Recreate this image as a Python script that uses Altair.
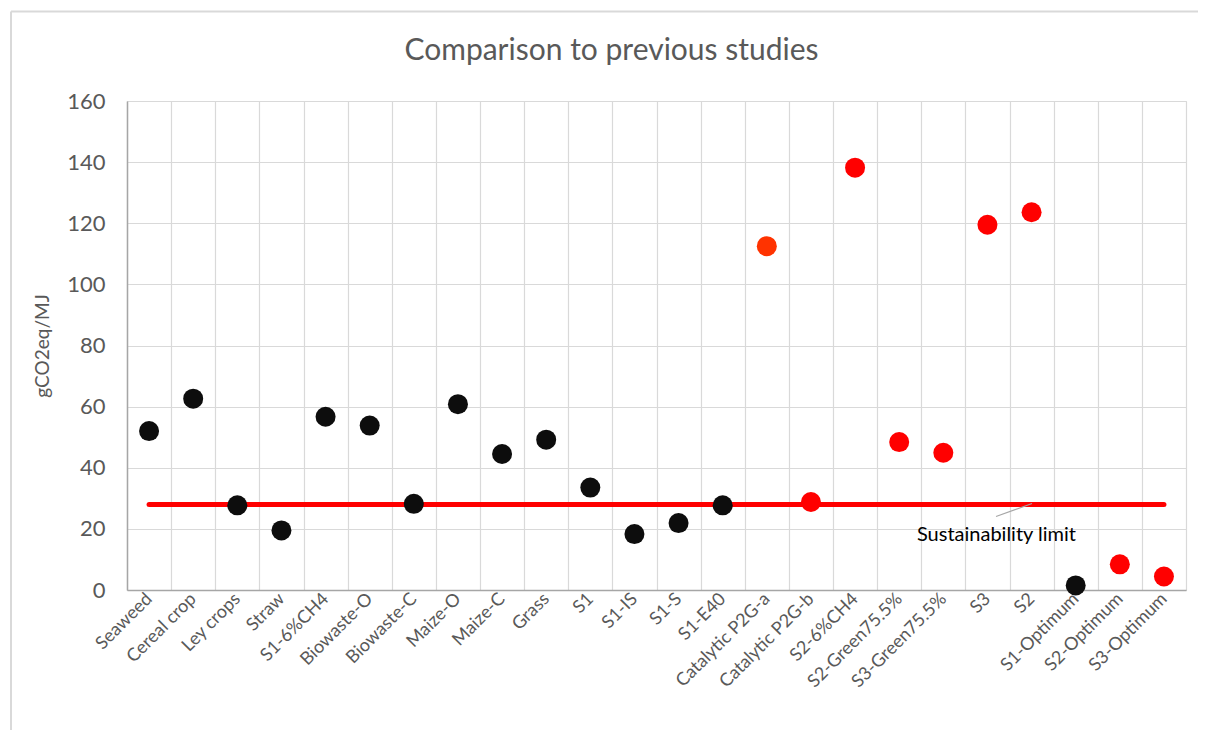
import altair as alt
import pandas as pd

categories = ["Seaweed", "Cereal crop", "Ley crops", "Straw", "S1-6%CH4", "Biowaste-O",
              "Biowaste-C", "Maize-O", "Maize-C", "Grass", "S1", "S1-IS", "S1-S", "S1-E40",
              "Catalytic P2G-a", "Catalytic P2G-b", "S2-6%CH4", "S2-Green75.5%",
              "S3-Green75.5%", "S3", "S2", "S1-Optimum", "S2-Optimum", "S3-Optimum"]
values = [52.0, 62.6, 27.7, 19.5, 56.7, 53.8, 28.2, 60.8, 44.5, 49.2, 33.5, 18.3, 21.9, 27.7,
          112.5, 28.8, 138.2, 48.4, 44.9, 119.5, 123.6, 1.5, 8.4, 4.4]
groups = (["previous"] * 14 + ["p2g_a"] + ["this"] * 6 + ["previous"] + ["this"] * 2)
limit_value = 28
limit_label = "Sustainability limit"
chart_title = "Comparison to previous studies"

group_domain = ["previous", "p2g_a", "this"]
group_colors = ["#0D0D0D", "#FF3300", "#FF0000"]

FONT = "Lato"
GREY = "#595959"

df = pd.DataFrame({"cat": categories, "v": values, "g": groups})
df_line = pd.DataFrame({"cat": [categories[0], categories[-1]], "v": [limit_value, limit_value]})
df_text = pd.DataFrame({"cat": ["S3"], "v": [16], "t": [limit_label]})
df_title = pd.DataFrame({"t": [chart_title]})

W, H = 1059, 489

xscale = alt.Scale(type="band", domain=categories, paddingInner=0, paddingOuter=0)
yscale = alt.Scale(domain=[0, 160], nice=False)

xaxis = alt.Axis(title=None, labelAngle=-45, labelFontSize=18, labelFont=FONT, labelColor=GREY,
                 ticks=False, tickBand="extent", grid=True, gridColor="#D9D9D9", gridWidth=1.2,
                 domainColor="#A6A6A6", domainWidth=1.5, labelPadding=6)
yaxis = alt.Axis(title="gCO2eq/MJ", values=list(range(0, 161, 20)), labelFontSize=22,
                 labelFont=FONT, labelColor=GREY, ticks=False, labelPadding=22,
                 grid=True, gridColor="#D9D9D9", gridWidth=1.2, domainColor="#A6A6A6",
                 domainWidth=1.5, titleFont=FONT, titleFontSize=19, titleColor=GREY,
                 titleFontWeight="normal", titlePadding=14)

base = alt.Chart(df)

points = base.mark_circle(size=400, opacity=1).encode(
    x=alt.X("cat:N", scale=xscale, axis=xaxis, sort=categories),
    y=alt.Y("v:Q", scale=yscale, axis=yaxis),
    color=alt.Color("g:N", scale=alt.Scale(domain=group_domain, range=group_colors), legend=None),
)

line = alt.Chart(df_line).mark_line(color="#FF0000", strokeWidth=5, strokeCap="round").encode(
    x=alt.X("cat:N", scale=xscale, sort=categories),
    y=alt.Y("v:Q", scale=yscale),
)

label = alt.Chart(df_text).mark_text(font=FONT, fontSize=20, color="#000000", align="center",
                                       baseline="alphabetic", dx=9).encode(
    x=alt.X("cat:N", scale=xscale, sort=categories),
    y=alt.Y("v:Q", scale=yscale),
    text="t:N",
)

leader = alt.Chart(df_text).mark_rule(color="#A6A6A6", strokeWidth=1.2).encode(
    x=alt.value(869), x2=alt.value(905), y=alt.value(415.5), y2=alt.value(402.5)
)

title = alt.Chart(df_title).mark_text(font=FONT, fontSize=30, color=GREY, align="center",
                                        baseline="alphabetic").encode(
    x=alt.value(484.5), y=alt.value(-41), text="t:N"
)

frame_top = alt.Chart(df_text).mark_rule(color="#D9D9D9", strokeWidth=2).encode(
    x=alt.value(-116), x2=alt.value(1079), y=alt.value(-89.5)
)
frame_left = alt.Chart(df_text).mark_rule(color="#D9D9D9", strokeWidth=2).encode(
    x=alt.value(-116), y=alt.value(-89.5), y2=alt.value(640)
)

chart = alt.layer(frame_top, frame_left, line, leader, points, label, title).properties(
    width=W, height=H,
    autosize=alt.AutoSizeParams(type="none"),
    padding={"left": 119, "top": 93, "right": 12, "bottom": 140},
).configure_view(stroke="#000000", strokeWidth=1.5).configure(background="white")

chart.save("out.html", embed_options={"renderer": "svg", "actions": False})
